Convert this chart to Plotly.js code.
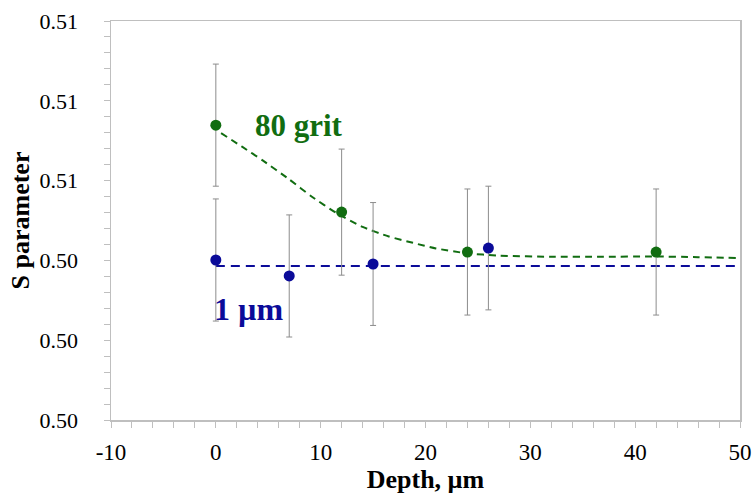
<!DOCTYPE html>
<html><head><meta charset="utf-8">
<script src="https://cdn.plot.ly/plotly-3.0.1.min.js"></script>
<style>html,body{margin:0;padding:0;background:#fff}#chart{width:753px;height:497px}</style>
</head><body><div id="chart"></div>
<script>
// 80 grit measured points
const gritDepth = [0, 12, 24, 42];
const gritS = [0.50739, 0.50521, 0.50421, 0.50421];
const gritErr = [0.00153, 0.00158, 0.00158, 0.00158];
// 1 µm measured points
const umDepth = [0, 7, 15, 26];
const umS = [0.50401, 0.50361, 0.50391, 0.50431];
const umErr = [0.00153, 0.00153, 0.00154, 0.00155];
// fitted curves
const gritFitDepth = [0.5, 2.5, 4.5, 7, 9.2, 11.5, 14, 16.5, 18.8, 21, 23.9, 27, 32.1, 37, 41.6, 46, 49.6];
const gritFitS = [0.50719, 0.50685, 0.50650, 0.50603, 0.50559, 0.50519, 0.50484, 0.50460, 0.50444, 0.50430, 0.50418, 0.50412, 0.50409, 0.50409, 0.50410, 0.50408, 0.50406];
const umFitDepth = [0, 50];
const umFitS = [0.50386, 0.50386];
// axis ticks
const yTickVals = [0.500, 0.502, 0.504, 0.506, 0.508, 0.510];
const yTickText = ['0.50', '0.50', '0.50', '0.51', '0.51', '0.51'];
const xTickVals = [-10, 0, 10, 20, 30, 40, 50];
const xTickText = ['-10', '0', '10', '20', '30', '40', '50'];

const green = '#116d11';
const blue = '#0b0b99';
const font = 'Liberation Serif, Times New Roman, serif';

const traces = [
  {x: gritFitDepth, y: gritFitS, mode: 'lines', line: {color: green, width: 2, dash: '7px,5px', shape: 'spline', smoothing: 0.6}, hoverinfo: 'skip'},
  {x: umFitDepth, y: umFitS, mode: 'lines', line: {color: blue, width: 2, dash: '9px,6px'}, hoverinfo: 'skip'},
  {x: gritDepth, y: gritS, mode: 'markers', marker: {color: green, size: 11},
   error_y: {type: 'data', array: gritErr, visible: true, color: '#8c8c8c', thickness: 1, width: 3}},
  {x: umDepth, y: umS, mode: 'markers', marker: {color: blue, size: 11},
   error_y: {type: 'data', array: umErr, visible: true, color: '#8c8c8c', thickness: 1, width: 3}}
];

const layout = {
  width: 753, height: 497,
  margin: {l: 111, r: 13, t: 21, b: 77},
  paper_bgcolor: '#fff', plot_bgcolor: '#fff',
  showlegend: false,
  font: {family: font, color: '#000', size: 23},
  xaxis: {
    range: [-10, 50], tickmode: 'array', tickvals: xTickVals, ticktext: xTickText,
    showgrid: false, zeroline: false, showline: true, mirror: true, linecolor: '#bfbfbf', linewidth: 1.5,
    ticks: 'outside', ticklen: 6, tickcolor: '#bfbfbf', ticklabelstandoff: 5,
    minor: {ticks: 'outside', ticklen: 6, tickcolor: '#bfbfbf', tickmode: 'linear', tick0: 0, dtick: 2, showgrid: false},
    tickfont: {size: 23, family: font},
    title: {text: '<b>Depth, µm</b>', font: {size: 26, family: font}, standoff: 2}
  },
  yaxis: {
    range: [0.5, 0.51], tickmode: 'array', tickvals: yTickVals, ticktext: yTickText,
    showgrid: false, zeroline: false, showline: true, mirror: true, linecolor: '#bfbfbf', linewidth: 1.5,
    ticks: 'outside', ticklen: 6, tickcolor: '#bfbfbf', ticklabelstandoff: 21,
    minor: {ticks: 'outside', ticklen: 6, tickcolor: '#bfbfbf', tickmode: 'linear', tick0: 0.5, dtick: 0.0004, showgrid: false},
    tickfont: {size: 22, family: font},
    title: {text: '<b>S parameter</b>', font: {size: 26, family: font}, standoff: 2}
  },
  annotations: [
    {x: 0.08, y: 0.50738, xref: 'x', yref: 'y', xanchor: 'left', yanchor: 'middle', showarrow: false, xshift: 36,
     text: '<b>80 grit</b>', font: {size: 31, color: green, family: font}},
    {x: 0, y: 0.50278, xref: 'x', yref: 'y', xanchor: 'left', yanchor: 'middle', showarrow: false, xshift: -4,
     text: '<b>1 µm</b>', font: {size: 32, color: blue, family: font}}
  ]
};
Plotly.newPlot('chart', traces, layout, {displayModeBar: false, staticPlot: true});
</script></body></html>
